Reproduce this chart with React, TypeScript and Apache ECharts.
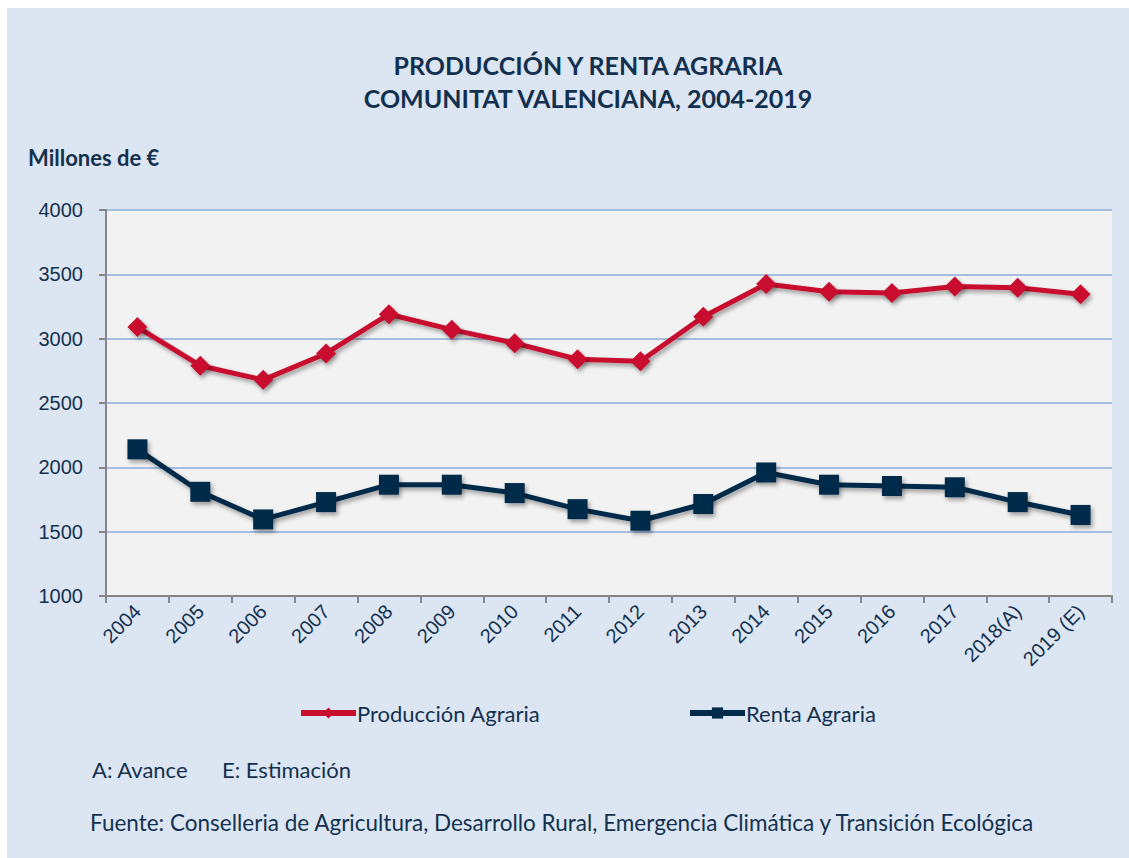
import React, { useEffect, useRef } from "react";
import * as echarts from "echarts";

const categories = [
  "2004", "2005", "2006", "2007", "2008", "2009", "2010", "2011",
  "2012", "2013", "2014", "2015", "2016", "2017", "2018(A)", "2019 (E)",
];
const produccion = [3090, 2790, 2680, 2885, 3190, 3070, 2965, 2840, 2825, 3170, 3425, 3365, 3355, 3405, 3395, 3345];
const renta = [2140, 1810, 1595, 1730, 1865, 1865, 1800, 1675, 1585, 1715, 1960, 1865, 1855, 1845, 1730, 1630];
const yMin = 1000;
const yMax = 4000;
const yInterval = 500;

const titleLines = ["PRODUCCIÓN Y RENTA AGRARIA", "COMUNITAT VALENCIANA, 2004-2019"];
const unitLabel = "Millones de €";
const noteA = "A: Avance";
const noteE = "E: Estimación";
const source = "Fuente: Conselleria de Agricultura, Desarrollo Rural, Emergencia Climática y Transición Ecológica";

const RED = "#c8102e";
const NAVY = "#022a4a";
const TEXT = "#13314f";
const FONT = "Lato, 'Open Sans', sans-serif";
const AXFONT = "'Liberation Sans', Arial, sans-serif";

export default function App() {
  const ref = useRef<HTMLDivElement>(null);
  useEffect(() => {
    if (!ref.current) return;
    const chart = echarts.init(ref.current, null, { renderer: "svg" });
    const shadow = {
      shadowColor: "rgba(0,0,0,0.35)",
      shadowBlur: 4,
      shadowOffsetX: 2,
      shadowOffsetY: 3,
    };
    const legendText = { fontFamily: FONT, fontSize: 22, color: TEXT, padding: [0, 0, 0, -4] };
    chart.setOption({
      animation: false,
      backgroundColor: "#dce6f2",
      grid: {
        left: 99,
        right: 17,
        top: 202,
        bottom: 262,
        show: true,
        backgroundColor: "#f2f2f2",
        borderWidth: 0,
      },
      legend: [
        {
          data: ["Producción Agraria"],
          left: 286,
          top: 689,
          itemWidth: 55,
          itemHeight: 14,
          lineStyle: { width: 6, shadowBlur: 0, shadowOffsetX: 0, shadowOffsetY: 0 },
          itemStyle: { shadowBlur: 0, shadowOffsetX: 0, shadowOffsetY: 0 },
          textStyle: legendText,
        },
        {
          data: ["Renta Agraria"],
          left: 675,
          top: 689,
          itemWidth: 55,
          itemHeight: 14,
          lineStyle: { width: 6, shadowBlur: 0, shadowOffsetX: 0, shadowOffsetY: 0 },
          itemStyle: { shadowBlur: 0, shadowOffsetX: 0, shadowOffsetY: 0 },
          textStyle: legendText,
        },
      ],
      xAxis: {
        type: "category",
        data: categories,
        boundaryGap: true,
        axisLine: { show: true, lineStyle: { color: "#868686", width: 2 } },
        axisTick: { show: true, length: 7, lineStyle: { color: "#868686", width: 2 } },
        axisLabel: {
          interval: 0,
          rotate: 45,
          margin: 12,
          fontSize: 20,
          fontFamily: AXFONT,
          color: TEXT,
        },
      },
      yAxis: {
        type: "value",
        min: yMin,
        max: yMax,
        interval: yInterval,
        axisLine: { show: true, lineStyle: { color: "#868686", width: 2 } },
        axisTick: { show: true, length: 7, lineStyle: { color: "#868686", width: 2 } },
        splitLine: { show: true, lineStyle: { color: "#a3bedf", width: 2 } },
        axisLabel: {
          margin: 23,
          fontSize: 20,
          fontFamily: AXFONT,
          color: TEXT,
          formatter: (v: number) => String(v),
        },
      },
      series: [
        {
          type: "line",
          name: "Producción Agraria",
          data: produccion,
          symbol: "diamond",
          symbolSize: 20,
          lineStyle: { color: RED, width: 5, ...shadow },
          itemStyle: { color: RED, ...shadow },
          z: 3,
        },
        {
          type: "line",
          name: "Renta Agraria",
          data: renta,
          symbol: "rect",
          symbolSize: 20,
          lineStyle: { color: NAVY, width: 5, ...shadow },
          itemStyle: { color: NAVY, ...shadow },
          z: 3,
        },
      ],
      graphic: [
        {
          type: "text",
          x: 581,
          y: 57,
          style: {
            text: titleLines[0],
            fontFamily: FONT,
            fontWeight: "bold",
            fontSize: 25,
            fill: TEXT,
            textAlign: "center",
            textVerticalAlign: "middle",
          },
        },
        {
          type: "text",
          x: 581,
          y: 90,
          style: {
            text: titleLines[1],
            fontFamily: FONT,
            fontWeight: "bold",
            fontSize: 25,
            fill: TEXT,
            textAlign: "center",
            textVerticalAlign: "middle",
          },
        },
        {
          type: "text",
          x: 21,
          y: 149,
          style: {
            text: unitLabel,
            fontFamily: FONT,
            fontWeight: "bold",
            fontSize: 22,
            fill: TEXT,
            textVerticalAlign: "middle",
          },
        },
        {
          type: "text",
          x: 85,
          y: 761,
          style: { text: noteA, fontFamily: FONT, fontSize: 22, fill: TEXT, textVerticalAlign: "middle" },
        },
        {
          type: "text",
          x: 215,
          y: 761,
          style: { text: noteE, fontFamily: FONT, fontSize: 22, fill: TEXT, textVerticalAlign: "middle" },
        },
        {
          type: "text",
          x: 83,
          y: 814,
          style: { text: source, fontFamily: FONT, fontSize: 22.5, fill: TEXT, textVerticalAlign: "middle" },
        },
      ],
    });
    return () => chart.dispose();
  }, []);
  return (
    <div
      ref={ref}
      style={{ position: "fixed", left: 7, top: 8, width: 1122, height: 850 }}
    />
  );
}
